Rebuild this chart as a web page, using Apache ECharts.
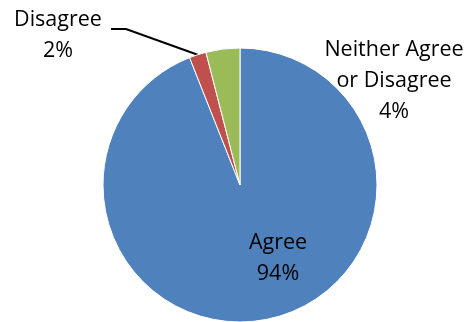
<!DOCTYPE html>
<html>
<head>
<meta charset="utf-8">
<script src="https://cdn.jsdelivr.net/npm/echarts@6/dist/echarts.min.js"></script>
<style>html,body{margin:0;padding:0;background:#fff}#c{width:473px;height:322px}</style>
</head>
<body>
<div id="c"></div>
<script>
var categories = ['Agree', 'Disagree', 'Neither Agree or Disagree'];
var labelTexts = ['Agree', 'Disagree', 'Neither Agree\nor Disagree'];
var values = [94, 2, 4];
var colors = ['#4F81BD', '#C0504D', '#9BBB59'];
var labelPos = [[278, 258], [58, 35], [394, 81]];

var chart = echarts.init(document.getElementById('c'), null, {renderer: 'canvas'});
var data = categories.map(function (n, i) {
  return {
    name: n,
    value: values[i],
    itemStyle: {color: colors[i]},
    label: {
      position: i === 0 ? 'inside' : 'outside',
      formatter: labelTexts[i] + '\n' + values[i] + '%'
    },
    labelLine: {show: i === 1}
  };
});
chart.setOption({
  animation: false,
  series: [{
    type: 'pie',
    center: [240, 185],
    radius: 137,
    startAngle: 90,
    clockwise: true,
    data: data,
    itemStyle: {borderColor: '#fff', borderWidth: 1},
    label: {
      color: '#000',
      fontFamily: 'Open Sans',
      fontSize: 21.5,
      lineHeight: 31,
      align: 'center',
      overflow: 'none'
    },
    labelLine: {lineStyle: {color: '#000', width: 2}},
    labelLayout: function (p) {
      var pos = labelPos[p.dataIndex];
      var r = {x: pos[0], y: pos[1], align: 'center', verticalAlign: 'middle', width: 200};
      if (p.dataIndex === 1) {
        r.labelLinePoints = [[111, 29], [126, 29], [p.labelLinePoints ? p.labelLinePoints[0][0] : 197, p.labelLinePoints ? p.labelLinePoints[0][1] : 55]];
      }
      return r;
    }
  }]
});
</script>
</body>
</html>
